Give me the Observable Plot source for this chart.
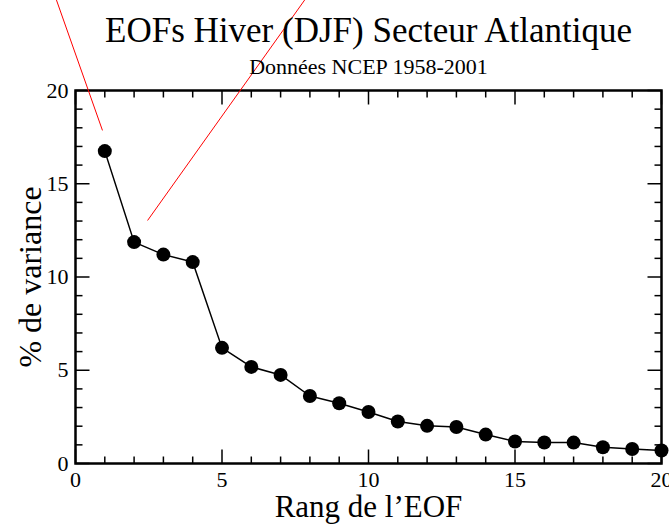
<!DOCTYPE html>
<html>
<head>
<meta charset="utf-8">
<script src="https://cdn.jsdelivr.net/npm/d3@7"></script>
<script src="https://cdn.jsdelivr.net/npm/@observablehq/plot@0.6"></script>
<style>
  html, body { margin: 0; padding: 0; background: #fff; }
  #chart svg { display: block; }
</style>
</head>
<body>
<div id="chart"></div>
<script>
// EOF rank and explained variance (%)
const rangs = [1,2,3,4,5,6,7,8,9,10,11,12,13,14,15,16,17,18,19,20];
const variance = [16.75,11.87,11.2,10.8,6.2,5.18,4.75,3.62,3.23,2.76,2.25,2.02,1.96,1.55,1.18,1.13,1.12,0.87,0.78,0.7];
const majorTicks = [0,5,10,15,20];
const minorTicks = d3.range(0,21).filter(d => d % 5 !== 0);
// Red annotation segments (data coordinates: rank, %)
const annotX1 = [-0.65, 7.82];
const annotY1 = [24.85, 24.85];
const annotX2 = [0.92, 2.46];
const annotY2 = [17.86, 13.03];

const title = "EOFs Hiver (DJF) Secteur Atlantique";
const subtitle = "Données NCEP 1958-2001";
const xLabel = "Rang de l’EOF";
const yLabel = "% de variance";

const data = rangs.map((r, i) => ({rang: r, v: variance[i]}));
const annots = annotX1.map((x1, i) => ({x1, y1: annotY1[i], x2: annotX2[i], y2: annotY2[i]}));

const W = 669, H = 526, mT = 90, mL = 75, mR = 8, mB = 63;
const fw = W - mL - mR, fh = H - mT - mB;
const X0 = 0, X1 = 20, Y0 = 0, Y1 = 20;
// inward tick lengths (14px major, 7px minor) expressed in data units
function tickSegs(values, px) {
  const ly = px * (Y1 - Y0) / fh, lx = px * (X1 - X0) / fw;
  const segs = [];
  for (const t of values) {
    segs.push({x1: t, y1: Y0, x2: t, y2: Y0 + ly});
    segs.push({x1: t, y1: Y1, x2: t, y2: Y1 - ly});
    segs.push({x1: X0, y1: t, x2: X0 + lx, y2: t});
    segs.push({x1: X1, y1: t, x2: X1 - lx, y2: t});
  }
  return segs;
}
const tickData = tickSegs(majorTicks, 14).concat(tickSegs(minorTicks, 7));

const chart = Plot.plot({
  width: W,
  height: H,
  marginTop: mT,
  marginLeft: mL,
  marginRight: mR,
  marginBottom: mB,
  style: {fontFamily: "'Liberation Serif', 'DejaVu Serif', serif", fontSize: "22px", color: "black", background: "white"},
  x: {domain: [X0, X1], ticks: majorTicks, tickSize: 0, tickPadding: 8, label: null, tickFormat: d => String(d)},
  y: {domain: [Y0, Y1], ticks: majorTicks, tickSize: 0, tickPadding: 7, label: null, tickFormat: d => String(d)},
  marks: [
    Plot.frame({stroke: "black", strokeWidth: 2.5, fill: "none"}),
    Plot.link(tickData, {x1: "x1", y1: "y1", x2: "x2", y2: "y2", stroke: "#000", strokeWidth: 1.5}),
    Plot.line(data, {x: "rang", y: "v", stroke: "black", strokeWidth: 1.5}),
    Plot.dot(data, {x: "rang", y: "v", r: 7, fill: "black", stroke: "none"}),
    Plot.link(annots, {x1: "x1", y1: "y1", x2: "x2", y2: "y2", stroke: "red", strokeWidth: 1}),
    // texts
    Plot.text([title], {frameAnchor: "top", lineAnchor: "middle", dy: -60, fontSize: 35, fill: "black"}),
    Plot.text([subtitle], {frameAnchor: "top", lineAnchor: "middle", dy: -24, fontSize: 22, fill: "black"}),
    Plot.text([xLabel], {frameAnchor: "bottom", lineAnchor: "middle", dy: 44, fontSize: 31, fill: "black"}),
    Plot.text([yLabel], {frameAnchor: "left", textAnchor: "middle", lineAnchor: "middle", rotate: -90, dx: -45, fontSize: 32, fill: "black"})
  ]
});
document.getElementById("chart").appendChild(chart);
</script>
</body>
</html>
